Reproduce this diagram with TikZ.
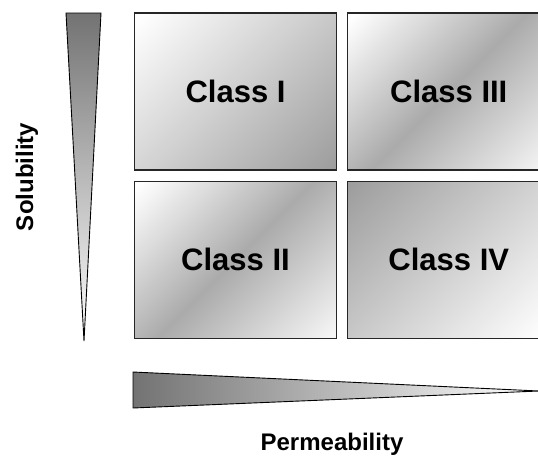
\documentclass[tikz,border=0pt]{standalone}
\usepackage{fontspec}
\setmainfont{Liberation Sans}
\usetikzlibrary{positioning}
\pgfdeclareverticalshading{lighttodark}{100bp}{color(0bp)=(black!38); color(16bp)=(black!38); color(84bp)=(white); color(100bp)=(white)}
\pgfdeclareverticalshading{darktolight}{100bp}{color(0bp)=(white); color(16bp)=(white); color(84bp)=(black!38); color(100bp)=(black!38)}
\pgfdeclareverticalshading{greyband}{100bp}{color(0bp)=(black!4); color(16bp)=(black!4); color(50bp)=(black!33); color(84bp)=(white); color(100bp)=(white)}

\begin{document}
\begin{tikzpicture}[x=1pt, y=-1pt, node distance=10pt,
classbox/.style={draw=black!85, line width=1.3pt, minimum width=202pt, minimum height=157pt, font=\fontsize{31}{34}\selectfont\bfseries, inner sep=0pt},
axislabel/.style={font=\fontsize{24}{27}\selectfont\bfseries, inner sep=0pt},
wedge/.style={draw=black, line width=0.9pt}]
\useasboundingbox (0,0) rectangle (538,456);
\clip (0,0) rectangle (538,456);
% the four classes
\node[classbox, shading=lighttodark, shading angle=45] (c1) at (235.5,91.5) {Class I};
\node[classbox, below=of c1, shading=greyband, shading angle=45] (c2) {Class II};
\node[classbox, right=of c1, shading=greyband, shading angle=45] (c3) {Class III};
\node[classbox, below=of c3, shading=darktolight, shading angle=45] (c4) {Class IV};
% wedges
\draw[wedge, top color=black!55, bottom color=white] (66,13) -- (101,13) -- (84,341) -- cycle;
\draw[wedge, left color=black!55, right color=white] (133,372) -- (133,408) -- (539,391) -- cycle;
\node[axislabel, rotate=90] (sol) at (27,177) {Solubility};
\node[axislabel] (perm) at (332,444) {Permeability};
\end{tikzpicture}
\end{document}
